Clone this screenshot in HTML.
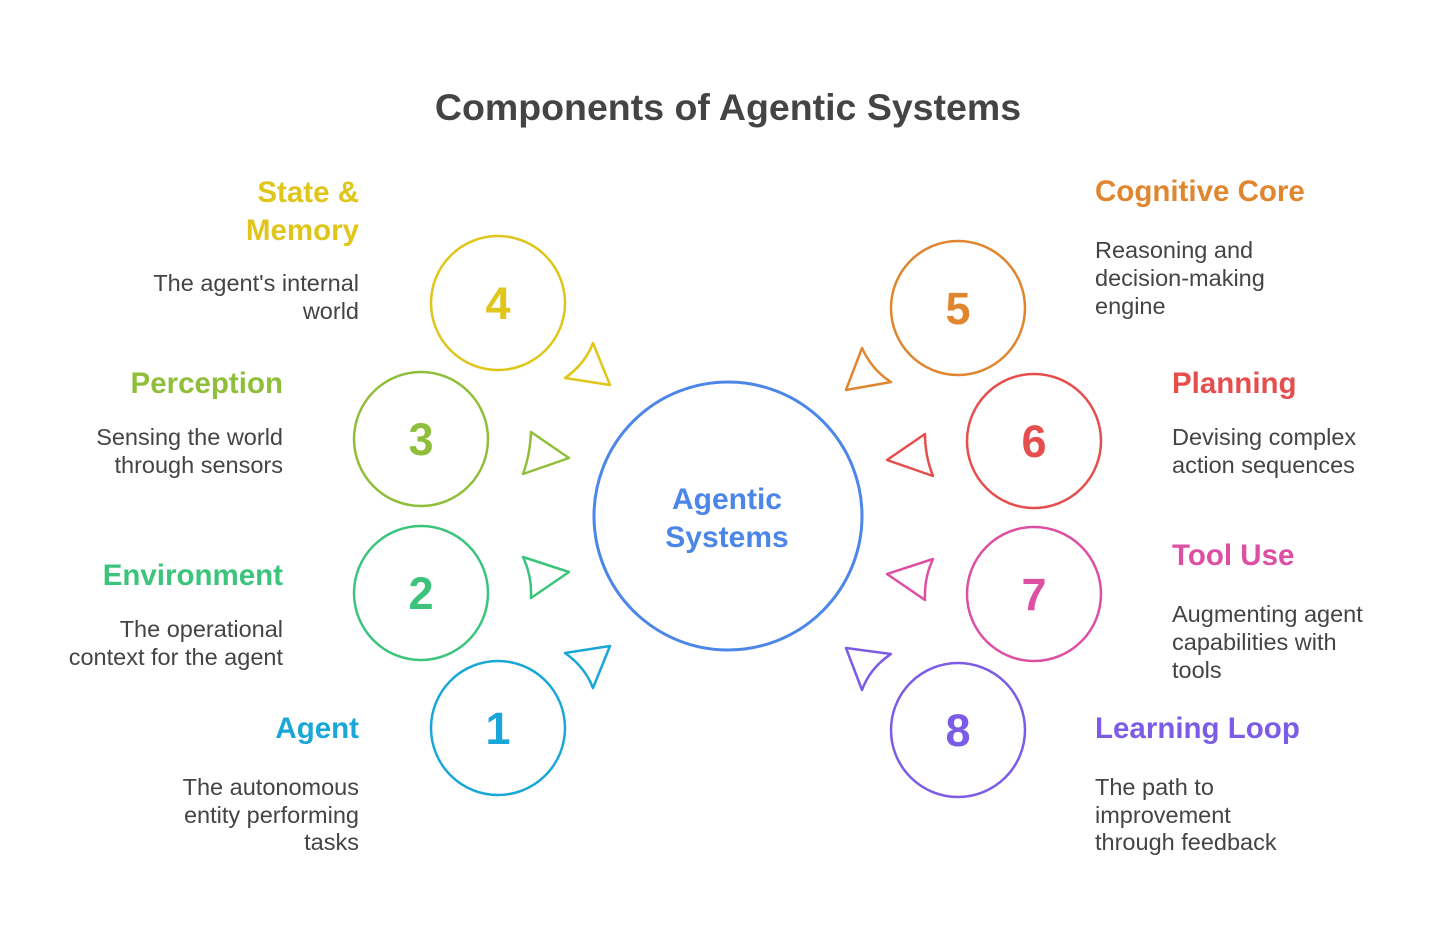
<!DOCTYPE html>
<html><head><meta charset="utf-8"><style>
html,body{margin:0;padding:0;background:#fff;}
svg{display:block;font-family:"Liberation Sans",sans-serif;}
.t{font-weight:bold;font-size:29.5px;}
.d{font-size:23.5px;fill:#444;}
.n{font-weight:bold;font-size:45px;text-anchor:middle;}
</style></head><body>
<svg width="1456" height="939" viewBox="0 0 1456 939">
<text x="728" y="120" text-anchor="middle" font-weight="bold" font-size="37.5" fill="#444">Components of Agentic Systems</text>

<circle cx="728" cy="516" r="134" fill="none" stroke="#4b86e8" stroke-width="3"/>
<text x="727" y="509" text-anchor="middle" font-weight="bold" font-size="30" fill="#4b86e8">Agentic</text>
<text x="727" y="547" text-anchor="middle" font-weight="bold" font-size="30" fill="#4b86e8">Systems</text>

<g fill="none" stroke-width="2.5" stroke-linejoin="round">
<circle cx="498" cy="303" r="67" stroke="#e0c51a"/>
<circle cx="421" cy="439" r="67" stroke="#8fbf3a"/>
<circle cx="421" cy="593" r="67" stroke="#3cc47c"/>
<circle cx="498" cy="728" r="67" stroke="#1aa7d8"/>
<circle cx="958" cy="308" r="67" stroke="#e0862f"/>
<circle cx="1034" cy="441" r="67" stroke="#e64e4e"/>
<circle cx="1034" cy="594" r="67" stroke="#dd4fa3"/>
<circle cx="958" cy="730" r="67" stroke="#7c5ce6"/>

<path d="M593 343 Q585 364 565 378 L610 385 Z" stroke="#e0c51a"/>
<path d="M531 432 Q530 455 523 474 L569 458 Z" stroke="#8fbf3a"/>
<path d="M523 557 Q532 576 531 598 L569 572 Z" stroke="#3cc47c"/>
<path d="M565 653 Q585 667 593 688 L610 646 Z" stroke="#1aa7d8"/>
<path d="M862 348 Q872 370 891 382 L846 390 Z" stroke="#e0862f"/>
<path d="M925 434 Q925 456 933 476 L887 460 Z" stroke="#e64e4e"/>
<path d="M933 559 Q924 578 925 600 L887 574 Z" stroke="#dd4fa3"/>
<path d="M891 654 Q870 668 862 690 L846 648 Z" stroke="#7c5ce6"/>
</g>

<text class="n" x="498" y="319" fill="#e0c51a">4</text>
<text class="n" x="421" y="455" fill="#8fbf3a">3</text>
<text class="n" x="421" y="609" fill="#3cc47c">2</text>
<text class="n" x="498" y="744" fill="#1aa7d8">1</text>
<text class="n" x="958" y="324" fill="#e0862f">5</text>
<text class="n" x="1034" y="457" fill="#e64e4e">6</text>
<text class="n" x="1034" y="610" fill="#dd4fa3">7</text>
<text class="n" x="958" y="746" fill="#7c5ce6">8</text>

<g text-anchor="end">
<text class="t" x="359" y="202" fill="#e0c51a">State &amp;</text>
<text class="t" x="359" y="240" fill="#e0c51a">Memory</text>
<text class="d" x="359" y="291">The agent's internal</text>
<text class="d" x="359" y="319">world</text>

<text class="t" x="283" y="393" fill="#8fbf3a">Perception</text>
<text class="d" x="283" y="445">Sensing the world</text>
<text class="d" x="283" y="473">through sensors</text>

<text class="t" x="283" y="585" fill="#3cc47c">Environment</text>
<text class="d" x="283" y="637">The operational</text>
<text class="d" x="283" y="665">context for the agent</text>

<text class="t" x="359" y="738" fill="#1aa7d8">Agent</text>
<text class="d" x="359" y="795">The autonomous</text>
<text class="d" x="359" y="823">entity performing</text>
<text class="d" x="359" y="850">tasks</text>
</g>

<text class="t" x="1095" y="201" fill="#e0862f">Cognitive Core</text>
<text class="d" x="1095" y="258">Reasoning and</text>
<text class="d" x="1095" y="286">decision-making</text>
<text class="d" x="1095" y="314">engine</text>

<text class="t" x="1172" y="393" fill="#e64e4e">Planning</text>
<text class="d" x="1172" y="445">Devising complex</text>
<text class="d" x="1172" y="473">action sequences</text>

<text class="t" x="1172" y="565" fill="#dd4fa3">Tool Use</text>
<text class="d" x="1172" y="622">Augmenting agent</text>
<text class="d" x="1172" y="650">capabilities with</text>
<text class="d" x="1172" y="678">tools</text>

<text class="t" x="1095" y="738" fill="#7c5ce6">Learning Loop</text>
<text class="d" x="1095" y="795">The path to</text>
<text class="d" x="1095" y="823">improvement</text>
<text class="d" x="1095" y="850">through feedback</text>
</svg>
</body></html>
